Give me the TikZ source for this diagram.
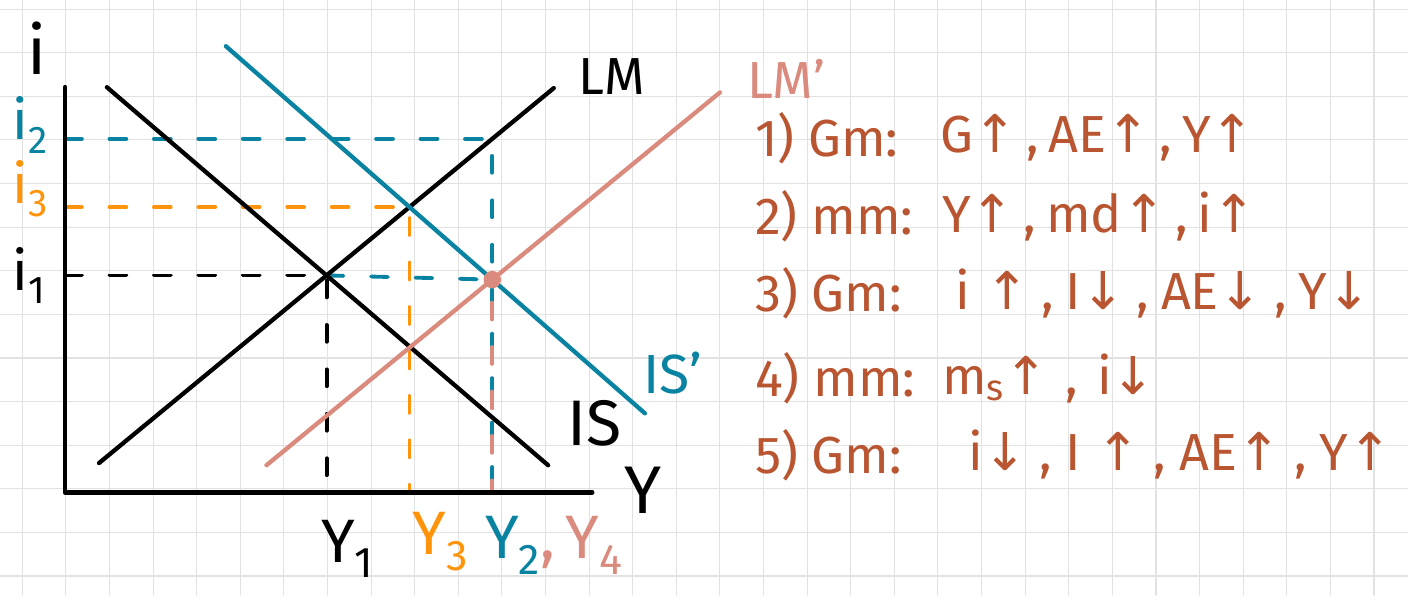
\documentclass[tikz,border=0pt]{standalone}
\usepackage{fontspec}
\setmainfont{Fira Sans}
\newfontfamily\arrowfont{DejaVu Sans}
\newcommand{\upar}{{\arrowfont ↑}}
\newcommand{\dnar}{{\arrowfont ↓}}
\usetikzlibrary{calc}
\definecolor{teal2}{RGB}{8,132,162}
\definecolor{salmon}{RGB}{219,138,126}
\definecolor{amber}{RGB}{255,148,10}
\definecolor{rust}{RGB}{185,85,48}
\definecolor{gridgray}{RGB}{226,226,226}

\begin{document}
\begin{tikzpicture}[line cap=round, line join=round,
  curve/.style={line width=2.8pt},
  guide/.style={line width=2.5pt, dash pattern=on 11pt off 18pt},
  lbl/.style={inner sep=0pt, font=\fontsize{40}{44}\selectfont},
  note/.style={inner sep=0pt, anchor=west, text=rust, font=\fontsize{34}{40}\selectfont}]
\useasboundingbox (-0.511,-0.44) rectangle (31.78,13.21);
\fill[white] (-0.511,-0.44) rectangle (31.78,13.21);
\draw[gridgray, line width=0.7pt] (-0.511,-0.44) grid (31.78,13.21);

% axes
\coordinate (O) at (0.98,1.92);
\coordinate (itop) at (0.98,11.21);
\coordinate (yend) at (13.07,1.92);

% curves
\coordinate (lmA) at (1.76,2.59);
\coordinate (lmB) at (12.19,11.19);
\coordinate (isA) at (1.94,11.21);
\coordinate (isB) at (12.06,2.54);
\coordinate (ispA) at (4.67,12.15);
\coordinate (ispB) at (14.28,3.73);
\coordinate (lmpA) at (5.60,2.54);
\coordinate (lmpB) at (16.0,11.09);

\coordinate (E1) at (intersection of lmA--lmB and isA--isB);
\coordinate (E3) at (intersection of lmA--lmB and ispA--ispB);
\coordinate (E4) at (intersection of lmpA--lmpB and ispA--ispB);
\coordinate (E4up) at (E4 |- lmB);
\coordinate (E2) at (intersection of lmA--lmB and E4--E4up);

\draw[guide] (E1 -| O) -- (E1) -- (E1 |- O);
\draw[guide, teal2] (E1) -- (E4);
\draw[guide, teal2] (E2 -| O) -- (E2) -- (E2 |- O);
\draw[guide, amber] (E3 -| O) -- (E3) -- (E3 |- O);
\draw[guide, salmon, dash phase=14pt] (E4) -- (E4 |- O);

\draw[line width=3pt] (itop) -- (O) -- (yend);
\draw[curve] (lmA) -- (lmB);
\draw[curve] (isA) -- (isB);
\draw[curve, teal2] (ispA) -- (ispB);
\draw[curve, salmon] (lmpA) -- (lmpB);
\fill[salmon] (E4) circle (0.2);

\node[lbl, font=\fontsize{44}{48}\selectfont] (iax) at (0.34,12.1) {i};
\node[lbl, font=\fontsize{44}{48}\selectfont] (yax) at (14.24,1.97) {Y};
\node[lbl, anchor=west, font=\fontsize{34}{40}\selectfont] (lm) at (12.75,11.46) {LM};
\node[lbl, anchor=west, font=\fontsize{34}{40}\selectfont, text=salmon] (lmp) at (16.62,11.39) {LM'};
\node[lbl, anchor=west, font=\fontsize{42}{46}\selectfont] (is) at (12.49,3.5) {IS};
\node[lbl, anchor=west, font=\fontsize{36}{40}\selectfont, text=teal2] (isp) at (14.24,4.65) {IS'};

\node[lbl, anchor=base west, font=\fontsize{36}{40}\selectfont, text=teal2] (i2) at (-0.22,10.0) {i\textsubscript{2}};
\node[lbl, anchor=base west, font=\fontsize{36}{40}\selectfont, text=amber] (i3) at (-0.22,8.55) {i\textsubscript{3}};
\node[lbl, anchor=base west, font=\fontsize{36}{40}\selectfont] (i1) at (-0.22,6.55) {i\textsubscript{1}};

\node[lbl, anchor=base west] (y1) at (6.85,0.32) {Y\textsubscript{1}};
\node[lbl, anchor=base west, text=amber] (y3) at (8.94,0.5) {Y\textsubscript{3}};
\node[lbl, anchor=base west, text=teal2] (y2) at (10.61,0.4) {Y\textsubscript{2}\textcolor{salmon}{,}};
\node[lbl, anchor=base west, text=salmon] (y4) at (12.45,0.4) {Y\textsubscript{4}};

% steps
\node[note] (h1) at (16.80,10.04) {1) Gm:};
\node[note] (b1) at (21.05,10.04) {\makebox[6.72cm][s]{G\upar{} , AE\upar{} , Y\upar}};
\node[note] (h2) at (16.80,8.25) {2) mm:};
\node[note] (b2) at (21.09,8.25) {\makebox[6.56cm][s]{Y\upar{} , md\upar{} , i\upar}};
\node[note] (h3) at (16.80,6.49) {3) Gm:};
\node[note] (b3) at (21.39,6.49) {\makebox[9.54cm][s]{i\hspace{0.3em}\upar{} , I\dnar{} , AE\dnar{} , Y\dnar}};
\node[note] (h4) at (16.80,4.54) {4) mm:};
\node[note] (b4) at (21.09,4.54) {\makebox[4.89cm][s]{m\textsubscript{s}\upar{} , i\dnar}};
\node[note] (h5) at (16.80,2.78) {5) Gm:};
\node[note] (b5) at (21.69,2.78) {\makebox[9.72cm][s]{i\dnar{} , I\hspace{0.3em}\upar{} , AE\upar{} , Y\upar}};
\end{tikzpicture}
\end{document}
